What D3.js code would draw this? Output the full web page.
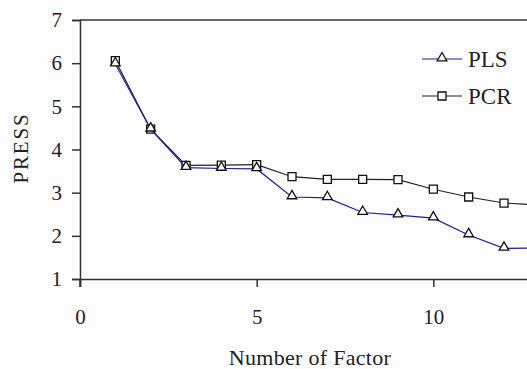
<!DOCTYPE html>
<html>
<head>
<meta charset="utf-8">
<script src="https://cdn.jsdelivr.net/npm/d3@7"></script>
<style>
  body { margin: 0; background: #fdfdfd; }
  svg { display: block; }
</style>
</head>
<body>
<div class="app"></div>
<script>
// values
var factors = [1, 2, 3, 4, 5, 6, 7, 8, 9, 10, 11, 12, 13];
var plsPress = [5.98, 4.47, 3.58, 3.56, 3.55, 2.9, 2.88, 2.54, 2.48, 2.41, 2.02, 1.71, 1.72];
var pcrPress = [6.06, 4.47, 3.63, 3.64, 3.65, 3.37, 3.31, 3.31, 3.3, 3.08, 2.9, 2.76, 2.71];
var xTicks = [0, 5, 10];
var yTicks = [1, 2, 3, 4, 5, 6, 7];
var seriesNames = ["PLS", "PCR"];

var width = 527, height = 369;
var serif = "'Liberation Serif', 'Times New Roman', serif";

var svg = d3.select(".app").append("svg").attr("width", width).attr("height", height);

var x = d3.scaleLinear().domain([0, 15]).range([80, 610]);
var y = d3.scaleLinear().domain([1, 7]).range([279, 20]);

// frame: top line
svg.append("line").attr("x1", x(0)).attr("x2", x(15)).attr("y1", y(7)).attr("y2", y(7))
    .attr("stroke", "#333").attr("stroke-width", 1.5);

var xAxis = svg.append("g").attr("transform", "translate(0," + y(1) + ")")
    .call(d3.axisBottom(x).tickValues(xTicks).tickSize(8).tickPadding(22).tickFormat(d3.format("d")));
var yAxis = svg.append("g").attr("transform", "translate(" + x(0) + ",0)")
    .call(d3.axisLeft(y).tickValues(yTicks).tickSize(8).tickPadding(10).tickFormat(d3.format("d")));

[xAxis, yAxis].forEach(function (g) {
    g.select(".domain").attr("stroke", "#333").attr("stroke-width", 1.5);
    g.selectAll(".tick line").attr("stroke", "#333").attr("stroke-width", 1.5);
    g.selectAll("text").style("font-family", serif).style("font-size", "21px").attr("fill", "#222");
});
// y axis runs a bit below the x axis
svg.append("line").attr("x1", x(0)).attr("x2", x(0)).attr("y1", y(1)).attr("y2", y(1) + 8)
    .attr("stroke", "#333").attr("stroke-width", 1.5);

svg.append("text").attr("x", 310).attr("y", 365).attr("text-anchor", "middle")
    .style("font-family", serif).style("font-size", "22px").attr("fill", "#222")
    .style("letter-spacing", "0.3px").text("Number of Factor");
svg.append("text").attr("transform", "translate(28,148) rotate(-90)").attr("text-anchor", "middle")
    .style("font-family", serif).style("font-size", "21px").attr("fill", "#222")
    .style("letter-spacing", "1.8px").text("PRESS");

var line = d3.line().x(function (d) { return x(d[0]); }).y(function (d) { return y(d[1]); });
var plsData = factors.map(function (f, i) { return [f, plsPress[i]]; });
var pcrData = factors.map(function (f, i) { return [f, pcrPress[i]]; });

var tri = d3.symbol().type(d3.symbolTriangle).size(40);
var sq = d3.symbol().type(d3.symbolSquare).size(64);

function drawSeries(data, color, sym, dy) {
    svg.append("path").datum(data).attr("d", line).attr("fill", "none")
        .attr("stroke", color).attr("stroke-width", 1.2);
    svg.selectAll(null).data(data).enter().append("path")
        .attr("d", sym)
        .attr("transform", function (d) { return "translate(" + x(d[0]) + "," + (y(d[1]) + dy) + ")"; })
        .attr("fill", "#fff").attr("stroke", "#111").attr("stroke-width", 1.3);
}
drawSeries(pcrData, "#222", sq, 0);
drawSeries(plsData, "#1c1c9c", tri, -1);

// legend
var legend = [{name: seriesNames[0], color: "#1c1c9c", sym: tri, y: 59, dy: -1},
              {name: seriesNames[1], color: "#222", sym: sq, y: 96, dy: 0}];
legend.forEach(function (l) {
    svg.append("line").attr("x1", 422).attr("x2", 462).attr("y1", l.y).attr("y2", l.y)
        .attr("stroke", l.color).attr("stroke-width", 1.2);
    svg.append("path").attr("d", l.sym).attr("transform", "translate(442," + (l.y + l.dy) + ")")
        .attr("fill", "#fff").attr("stroke", "#111").attr("stroke-width", 1.3);
    svg.append("text").attr("x", 468).attr("y", l.y + 8).style("font-family", serif)
        .style("font-size", "23px").attr("fill", "#222").text(l.name);
});
</script>
</body>
</html>
